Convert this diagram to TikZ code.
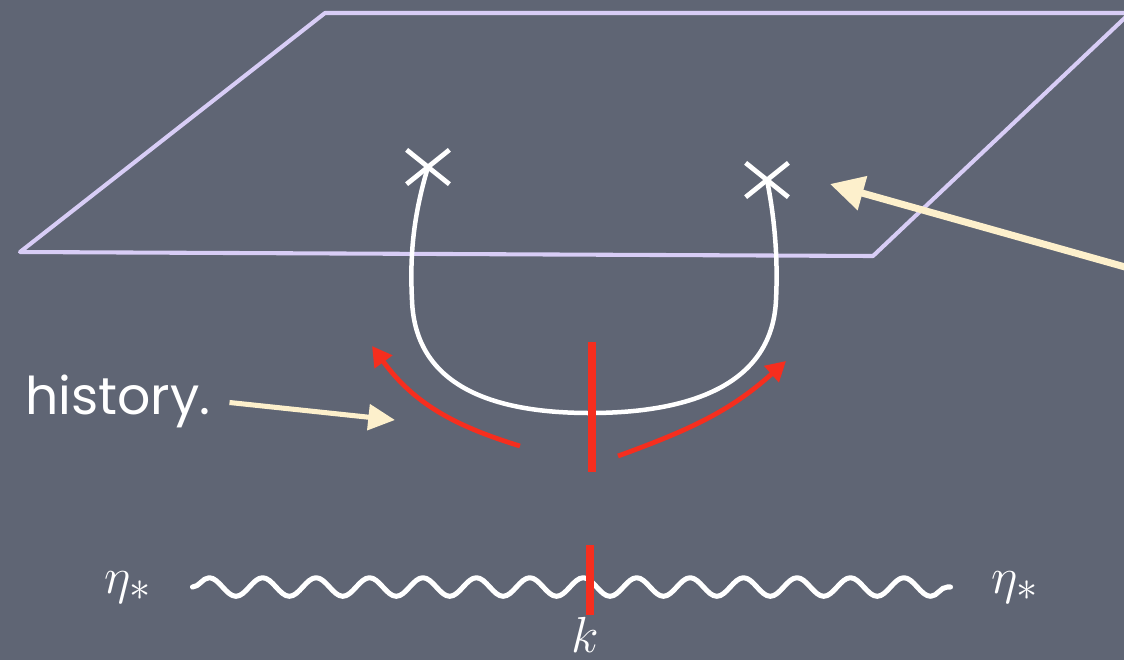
\documentclass[tikz,border=0pt]{standalone}
\usepackage{xcolor}
\usepackage{fontspec}
\newfontfamily\handfont{Poppins}
\usepackage{tikz}
\usetikzlibrary{arrows.meta, decorations.pathmorphing, shapes.misc, positioning}

\definecolor{board}{RGB}{95,101,116}
\definecolor{plane}{RGB}{216,205,246}
\definecolor{cutred}{RGB}{246,46,30}
\definecolor{cream}{RGB}{253,240,204}

\begin{document}
\begin{tikzpicture}[x=0.025cm, y=-0.025cm, line join=round,
        insertion/.style={cross out, draw=white, line width=3.4pt, minimum width=27pt, minimum height=21pt, inner sep=0pt},
        timelabel/.style={text=white, font=\Huge, scale=1.45},
        propagator/.style={draw=white, line width=3.6pt, line cap=round, decorate,
            decoration={snake, segment length=38pt, amplitude=6.6pt}},
        cutbar/.style={draw=cutred, line width=6pt},
        flow/.style={draw=cutred, line width=3.4pt, -{Triangle[length=14pt, width=15pt]}},
        pointer/.style={draw=cream, line width=3.6pt, -{Triangle[length=19pt, width=18pt]}}]

        \fill[board] (0,0) rectangle (1124,660);
        \useasboundingbox (0,0) rectangle (1124,660);
        \clip (0,0) rectangle (1124,660);

        % late-time surface
        \draw[plane, line width=2.9pt, line cap=round] (20,252) -- (325,13) -- (1130,13) -- (873,256) -- cycle;

        % operator insertions and the correlator
        \node[insertion] (xL) at (428,167) {};
        \node[insertion] (xR) at (767,180) {};
        \draw[white, line width=3.2pt]
            (xL.center) .. controls (412,220) and (410,260) .. (412,300)
            .. controls (415,390) and (500,413) .. (590,413)
            .. controls (680,413) and (772,390) .. (776,300)
            .. controls (778,260) and (775,220) .. (xR.center);

        % cut through the diagram
        \coordinate (cutT) at (592,342);
        \coordinate (cutB) at (590,545);
        \draw[cutbar] (cutT) -- ++(0,130);

        % flow arrows
        \coordinate (flowL0) at (520,446);
        \coordinate (flowL1) at (372,346);
        \coordinate (flowR0) at (618,456);
        \coordinate (flowR1) at (786,361);
        \draw[flow] (flowL0) to[out=163, in=-54] (flowL1);
        \draw[flow] (flowR0) to[out=20, in=222] (flowR1);

        % initial-time propagator
        \node[timelabel, inner xsep=20pt] (etaL) at (128,587) {$\eta_*$};
        \node[timelabel, inner xsep=20pt] (etaR) at (1015,587) {$\eta_*$};
        \draw[propagator] (etaL) -- (etaR);
        \draw[cutbar] (cutB) -- ++(0,70) coordinate (cutE);
        \node[timelabel, inner sep=1pt, below left=0pt and -8pt of cutE] (k) {$k$};

        % annotations
        \node[text=white, font=\handfont\fontsize{37}{44}\selectfont] (hist) at (118,401) {history.};
        \coordinate (histTip) at (395,420);
        \draw[pointer, shorten <=10pt] (hist.east) -- (histTip);
        \coordinate (noteTail) at (1150,274);
        \coordinate (noteHead) at (830,184);
        \draw[pointer, line width=5pt, -{Triangle[length=24pt, width=24pt]}] (noteTail) -- (noteHead);

    \end{tikzpicture}
\end{document}
